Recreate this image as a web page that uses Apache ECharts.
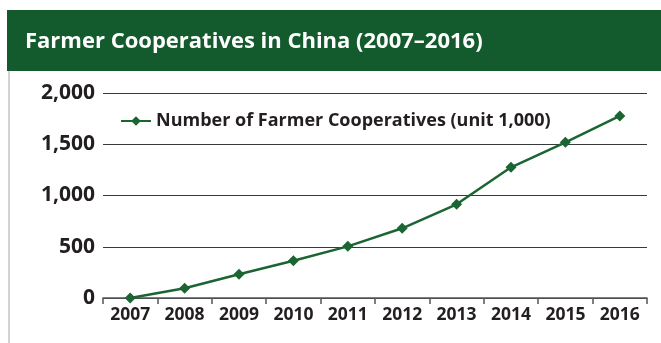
<!DOCTYPE html>
<html>
<head>
<meta charset="utf-8">
<script src="https://cdn.jsdelivr.net/npm/echarts@6/dist/echarts.min.js"></script>
<style>html,body{margin:0;padding:0;background:#fff}#c{width:661px;height:343px}</style>
</head>
<body>
<div id="c"></div>
<script>
var titleText = 'Farmer Cooperatives in China (2007\u20132016)';
var seriesName = 'Number of Farmer Cooperatives (unit 1,000)';
var years = ['2007','2008','2009','2010','2011','2012','2013','2014','2015','2016'];
var cooperatives = [0, 95, 231, 364, 504, 680, 914, 1275, 1519, 1776];

var chart = echarts.init(document.getElementById('c'), null, {renderer: 'canvas'});
var dark = '#231f20';
var green = '#1b6532';
chart.setOption({
  animation: false,
  backgroundColor: '#fff',
  graphic: [
    {type: 'rect', shape: {x: 7, y: 10, width: 654, height: 61}, style: {fill: '#135a2d'}, z: 0},
    {type: 'line', shape: {x1: 9, y1: 71, x2: 9, y2: 343}, style: {stroke: '#c4c4c4', lineWidth: 1.5}, z: 0}
  ],
  title: {
    text: titleText,
    left: 20, top: 26,
    textStyle: {color: '#fff', fontFamily: 'Open Sans', fontWeight: 'bold', fontSize: 22}
  },
  legend: {
    left: 115, top: 107,
    itemWidth: 30, itemHeight: 12, itemGap: 8,
    textStyle: {color: dark, fontFamily: 'Open Sans', fontWeight: 'bold', fontSize: 18}
  },
  grid: {left: 103, right: 14, top: 93, bottom: 45, containLabel: false},
  xAxis: {
    type: 'category', data: years, boundaryGap: true,
    axisLine: {lineStyle: {color: '#555', width: 1.5}},
    axisTick: {show: true, length: 6, lineStyle: {color: '#555', width: 1.5}},
    axisLabel: {color: dark, fontFamily: 'Open Sans', fontWeight: 'bold', fontSize: 17.5, margin: 8}
  },
  yAxis: {
    type: 'value', min: 0, max: 2000, interval: 500,
    axisLine: {show: false}, axisTick: {show: false},
    splitLine: {lineStyle: {color: '#3a3a3a', width: 1.2}},
    axisLabel: {color: dark, fontFamily: 'Open Sans', fontWeight: 'bold', fontSize: 21, margin: 8,
      formatter: function (v) { return v.toLocaleString('en-US'); }}
  },
  series: [{
    name: seriesName, type: 'line', data: cooperatives,
    symbol: 'diamond', symbolSize: 11,
    lineStyle: {color: green, width: 2.5},
    itemStyle: {color: green}
  }]
});
</script>
</body>
</html>
